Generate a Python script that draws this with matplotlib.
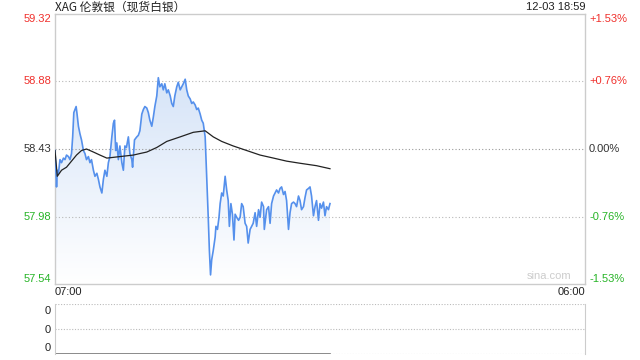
import numpy as np
import matplotlib.pyplot as plt
from matplotlib.path import Path
from matplotlib.patches import PathPatch
from matplotlib.colors import LinearSegmentedColormap

plt.rcParams['font.family'] = ['Noto Sans CJK SC', 'DejaVu Sans']

title = 'XAG 伦敦银（现货白银）'
stamp = '12-03 18:59'
prev_close = 58.43
y_ticks = [59.32, 58.88, 58.43, 57.98, 57.54]
pct_labels = ['+1.53%', '+0.76%', '0.00%', '-0.76%', '-1.53%']
x_labels = ['07:00', '06:00']
total_minutes = 1380  # 07:00 -> 次日 06:00

# 分时价格 (距 07:00 的分钟数, 价格)
minutes = [0, 2, 4, 6, 9, 13, 17, 22, 26, 30, 35, 39, 43, 46, 49, 52, 55, 57, 61, 65,
           69, 74, 78, 82, 87, 91, 95, 100, 104, 109, 113, 117, 122, 126, 130, 135, 139,
           143, 148, 152, 155, 158, 161, 165, 169, 174, 178, 182, 186, 191, 195, 200,
           202, 207, 213, 217, 221, 226, 230, 234, 239, 243, 247, 252, 256, 260, 265,
           269, 273, 278, 282, 286, 291, 295, 300, 304, 308, 312, 317, 321, 326, 330,
           334, 339, 343, 347, 352, 356, 360, 365, 369, 373, 378, 382, 386, 391, 393,
           397, 399, 402, 405, 408, 412, 417, 419, 423, 427, 430, 434, 438, 443, 447,
           451, 454, 458, 462, 466, 469, 473, 478, 482, 486, 490, 495, 499, 503, 508,
           512, 516, 521, 525, 530, 534, 538, 543, 545, 551, 556, 560, 564, 569, 573,
           577, 582, 586, 590, 595, 599, 603, 608, 612, 616, 621, 625, 629, 634, 638,
           642, 647, 651, 655, 660, 664, 668, 673, 677, 681, 686, 690, 694, 699, 703,
           707, 712, 716]
prices = [58.42, 58.31, 58.18, 58.29, 58.27, 58.36, 58.34, 58.37, 58.36, 58.39, 58.38,
          58.36, 58.40, 58.51, 58.67, 58.69, 58.71, 58.67, 58.58, 58.53, 58.49, 58.42,
          58.40, 58.36, 58.38, 58.34, 58.36, 58.29, 58.25, 58.27, 58.23, 58.18, 58.14,
          58.23, 58.29, 58.25, 58.34, 58.38, 58.51, 58.60, 58.62, 58.42, 58.47, 58.36,
          58.45, 58.34, 58.29, 58.45, 58.44, 58.51, 58.40, 58.36, 58.31, 58.49, 58.51,
          58.52, 58.55, 58.66, 58.69, 58.71, 58.70, 58.67, 58.62, 58.58, 58.64, 58.71,
          58.78, 58.90, 58.84, 58.86, 58.82, 58.86, 58.80, 58.82, 58.78, 58.73, 58.71,
          58.78, 58.84, 58.87, 58.82, 58.84, 58.86, 58.89, 58.82, 58.78, 58.76, 58.73,
          58.74, 58.72, 58.69, 58.70, 58.66, 58.62, 58.60, 58.51, 58.38, 58.12, 57.98,
          57.76, 57.60, 57.70, 57.76, 57.85, 57.92, 57.90, 57.98, 58.07, 58.14, 58.12,
          58.25, 58.16, 58.09, 57.92, 58.07, 58.00, 57.83, 58.00, 57.98, 57.96, 57.98,
          58.07, 58.05, 57.94, 57.92, 57.81, 57.90, 57.92, 57.94, 58.01, 57.92, 58.03,
          57.98, 58.08, 58.05, 57.90, 58.03, 58.05, 57.94, 58.07, 58.12, 58.14, 58.16,
          58.14, 58.17, 58.18, 58.13, 58.15, 58.09, 57.90, 58.01, 58.07, 58.08, 58.07,
          58.05, 58.12, 58.09, 58.03, 58.05, 58.11, 58.16, 58.17, 58.18, 58.12, 57.99,
          58.05, 58.09, 57.96, 58.07, 58.04, 58.08, 57.99, 58.05, 58.03, 58.07]

# 均价线
avg_minutes = [0, 6, 17, 30, 43, 56, 69, 82, 100, 117, 135, 169, 204, 221, 239, 265,
               291, 326, 360, 391, 412, 434, 464, 499, 534, 569, 603, 638, 681, 716]
avg_prices = [58.42, 58.25, 58.29, 58.31, 58.35, 58.39, 58.42, 58.43, 58.41, 58.39,
              58.37, 58.38, 58.39, 58.40, 58.41, 58.44, 58.48, 58.51, 58.54, 58.55,
              58.51, 58.48, 58.45, 58.42, 58.39, 58.37, 58.35, 58.336, 58.32, 58.30]

red = '#f0302c'
green = '#27b427'
dark = '#333333'
colors = [red, red, dark, green, green]
num_font = ['Liberation Sans', 'DejaVu Sans']

W, H = 640, 360
fig = plt.figure(figsize=(6.4, 3.6), dpi=100)
ax = fig.add_axes([55 / W, 76 / H, 530 / W, 270 / H])
ymin, ymax = y_ticks[-1], y_ticks[0]
ax.set_xlim(0, total_minutes)
ax.set_ylim(ymin, ymax)

# 渐变填充
grad = np.linspace(1, 0, 256).reshape(-1, 1)
cmap = LinearSegmentedColormap.from_list('fill', ['#ffffff', '#d6e4f8'])
img = ax.imshow(grad, cmap=cmap, aspect='auto', extent=[0, total_minutes, ymin, max(prices)],
                origin='upper', zorder=1, vmin=0, vmax=1)
verts = [(minutes[0], ymin)] + list(zip(minutes, prices)) + [(minutes[-1], ymin), (minutes[0], ymin)]
codes = [Path.MOVETO] + [Path.LINETO] * (len(verts) - 2) + [Path.CLOSEPOLY]
clip = PathPatch(Path(verts, codes), facecolor='none', edgecolor='none')
ax.add_patch(clip)
img.set_clip_path(clip)

ax.plot(minutes, prices, color='#5590ec', lw=1.2, zorder=3)
ax.plot(avg_minutes, avg_prices, color='#222222', lw=0.9, zorder=4)

for v in y_ticks[1:4]:
    ax.axhline(v, color='#b8b8b8' if v != prev_close else '#999999', lw=0.8,
               ls=(0, (1, 2)), zorder=2)

ax.set_xticks([])
ax.set_yticks([])
for s in ax.spines.values():
    s.set_color('#cccccc')
    s.set_linewidth(1)

for i, (v, p, c) in enumerate(zip(y_ticks, pct_labels, colors)):
    va = 'top' if i == 0 else ('bottom' if i == len(y_ticks) - 1 else 'center')
    ax.text(-4 / 530 * total_minutes, v, f'{v:.2f}', color=c, fontsize=8, ha='right', va=va,
            family=num_font)
    ax.text(total_minutes * (1 + 4 / 530), v, p, color=c, fontsize=8, ha='left', va=va,
            family=num_font)

fig.text(55 / W, 1 - 7 / H, title, fontsize=8.5, ha='left', va='center', color='#222222')
fig.text(585 / W, 1 - 7 / H, stamp, fontsize=8, ha='right', va='center', color='#222222',
         family=num_font)
ax.text(total_minutes * 0.975, ymin + 0.02, 'sina.com', fontsize=8, ha='right', va='bottom',
        color='#cccccc', family=num_font)

fig.text(55 / W, 1 - 292 / H, x_labels[0], fontsize=8, ha='left', va='center', color='#222222',
         family=num_font)
fig.text(585 / W, 1 - 292 / H, x_labels[1], fontsize=8, ha='right', va='center', color='#222222',
         family=num_font)

# 成交量面板
vax = fig.add_axes([55 / W, 6 / H, 530 / W, 50 / H])
vax.set_xlim(0, total_minutes)
vax.set_ylim(0, 2)
vax.set_xticks([])
vax.set_yticks([])
for side in ['left', 'right']:
    vax.spines[side].set_color('#cccccc')
for side in ['top', 'bottom']:
    vax.spines[side].set_visible(False)
for v in [0, 1, 2]:
    vax.axhline(v, color='#bbbbbb', lw=0.8, ls=(0, (1, 1.5)))
vax.plot([0, minutes[-1]], [0, 0], color='#777777', lw=1.2)
for ypix in [311, 330, 348]:
    fig.text(51 / W, 1 - ypix / H, '0', fontsize=8, ha='right', va='center', color='#222222',
             family=num_font)

fig.savefig('out.png', dpi=100)
